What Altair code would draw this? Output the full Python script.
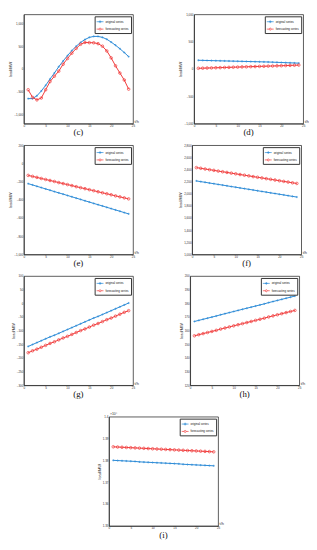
import altair as alt
import pandas as pd

hours = list(range(1, 25))

c_orig = [-652, -652, -590, -485, -361, -222, -90, 49, 174, 292, 403, 500,
          583, 646, 694, 715, 715, 694, 653, 590, 521, 444, 361, 271]
c_fore = [-458, -625, -680, -639, -458, -278, -160, -49, 104, 229, 347, 451,
          542, 583, 578, 575, 556, 500, 396, 243, 69, -90, -243, -444]

d_orig = [159, 157, 155, 153, 151, 149, 147, 145, 143, 141, 139, 137,
          135, 133, 131, 129, 127, 124, 121, 118, 115, 112, 109, 106]
d_fore = [12, 14, 17, 19, 22, 24, 27, 29, 32, 34, 37, 39,
          42, 44, 47, 49, 52, 54, 57, 59, 62, 65, 68, 71]

e_orig = [-223, -237, -252, -266, -281, -295, -310, -324, -338, -353, -367, -382,
          -396, -411, -425, -440, -454, -468, -483, -497, -512, -526, -541, -555]
e_fore = [-132, -143, -154, -166, -177, -188, -199, -211, -222, -233, -244, -256,
          -267, -278, -289, -300, -312, -323, -334, -345, -357, -368, -379, -390]

f_orig = [2211, 2199, 2188, 2176, 2165, 2153, 2142, 2130, 2118, 2107, 2095, 2084,
          2072, 2061, 2049, 2037, 2026, 2014, 2003, 1991, 1980, 1968, 1956, 1945]
f_fore = [2430, 2419, 2407, 2396, 2385, 2373, 2362, 2351, 2339, 2328, 2316, 2305,
          2294, 2282, 2271, 2260, 2248, 2237, 2226, 2214, 2203, 2192, 2180, 2169]

g_orig = [-158, -151, -144, -137, -130, -123, -117, -110, -103, -96, -89, -82,
          -75, -68, -61, -54, -48, -41, -34, -27, -20, -13, -6, 1]
g_fore = [-181, -174, -168, -161, -154, -147, -141, -134, -127, -121, -114, -107,
          -100, -94, -87, -80, -74, -67, -60, -54, -47, -40, -33, -27]

h_orig = [166.7, 167.5, 168.3, 169.1, 169.9, 170.7, 171.6, 172.4, 173.2, 174.0, 174.8, 175.6,
          176.4, 177.2, 178.0, 178.8, 179.6, 180.5, 181.3, 182.1, 182.9, 183.7, 184.5, 185.3]
h_fore = [156.2, 157.0, 157.8, 158.6, 159.4, 160.2, 161.1, 161.9, 162.7, 163.5, 164.3, 165.1,
          165.9, 166.7, 167.5, 168.3, 169.1, 170.0, 170.8, 171.6, 172.4, 173.2, 174.0, 174.8]

# panel (i) values in units of 10^4
i_orig = [1.3800, 1.3799, 1.3798, 1.3797, 1.3796, 1.3795, 1.3793, 1.3792, 1.3791, 1.3790, 1.3789, 1.3788,
          1.3787, 1.3786, 1.3785, 1.3784, 1.3782, 1.3781, 1.3780, 1.3779, 1.3778, 1.3777, 1.3776, 1.3775]
i_fore = [1.3862, 1.3861, 1.3860, 1.3859, 1.3858, 1.3857, 1.3856, 1.3855, 1.3854, 1.3853, 1.3852, 1.3851,
          1.3850, 1.3849, 1.3848, 1.3847, 1.3846, 1.3845, 1.3844, 1.3843, 1.3842, 1.3841, 1.3840, 1.3839]

series_names = ["original series", "forecasting series"]
x_ticks = [0, 5, 10, 15, 20, 25]

BLUE = "#2a8ad6"
RED = "#f03a3a"
PLUS = "M-1,0H1M0,-1V1"
LEG_PLUS = "M-1,0H1M0,-0.4V0.4M-0.4,0H0.4"
LEG_CIRC = "M-1,0H-0.3M0.3,0H1M-0.3,0A0.3,0.3,0,1,0,0.3,0A0.3,0.3,0,1,0,-0.3,0"
W, H = 111, 111


def panel(label, orig, fore, ydom, yticks, yfmt=None, exp_text=None):
    df = pd.DataFrame({
        "t": hours + hours,
        "load": orig + fore,
        "series": [series_names[0]] * 24 + [series_names[1]] * 24,
    })
    base = alt.Chart(df)
    x = alt.X("t:Q", scale=alt.Scale(domain=[0, 25], nice=False),
              axis=alt.Axis(values=x_ticks, title="t/h", titleX=W + 1, titleY=-2,
                            titleAlign="left", titleBaseline="middle", titleAngle=0,
                            labelFlush=False))
    yaxis = dict(values=yticks, title="load/MW")
    if yfmt:
        yaxis["format"] = yfmt
    y = alt.Y("load:Q", scale=alt.Scale(domain=ydom, nice=False, zero=False),
              axis=alt.Axis(**yaxis))
    o = base.transform_filter(alt.datum.series == series_names[0])
    f = base.transform_filter(alt.datum.series == series_names[1])
    layers = [
        o.mark_line(color=BLUE, strokeWidth=1).encode(x=x, y=y),
        o.mark_point(shape=PLUS, filled=False, color=BLUE, size=5, strokeWidth=0.6, opacity=1).encode(x=x, y=y),
        f.mark_line(color=RED, strokeWidth=1).encode(x=x, y=y),
        f.mark_point(shape="circle", filled=False, color=RED, size=7, strokeWidth=0.7, opacity=1).encode(x=x, y=y),
        base.transform_filter("false").mark_point(filled=False, strokeWidth=0.7, opacity=1).encode(
            x=x, y=y,
            color=alt.Color("series:N", scale=alt.Scale(domain=series_names, range=[BLUE, RED]),
                            legend=alt.Legend(title=None)),
            shape=alt.Shape("series:N", scale=alt.Scale(domain=series_names, range=[LEG_PLUS, LEG_CIRC]),
                            legend=alt.Legend(title=None)),
        ),
    ]
    if exp_text:
        tdf = pd.DataFrame({"txt": [exp_text]})
        layers.append(alt.Chart(tdf).mark_text(align="left", baseline="bottom", fontSize=3.5,
                                               font="Liberation Sans", color="#333").encode(
            text="txt:N", x=alt.value(1), y=alt.value(-1)))
    return alt.layer(*layers).properties(
        width=W, height=H,
        title=alt.TitleParams(label, orient="bottom", font="Liberation Serif", fontSize=9,
                              fontWeight="normal", offset=1, color="#111"),
    )


def indep(ch):
    return ch.resolve_scale(color="independent", shape="independent").resolve_legend(
        color="independent", shape="independent")


pc = panel("(c)", c_orig, c_fore, [-1200, 1200], [-1000, -500, 0, 500, 1000])
pd_ = panel("(d)", d_orig, d_fore, [-1000, 1000], [-1000, -500, 0, 500, 1000])
pe = panel("(e)", e_orig, e_fore, [-1000, 200], [-1000, -800, -600, -400, -200, 0, 200])
pf = panel("(f)", f_orig, f_fore, [1000, 2800], [1000, 1200, 1400, 1600, 1800, 2000, 2200, 2400, 2600, 2800])
pg = panel("(g)", g_orig, g_fore, [-300, 100], [-300, -250, -200, -150, -100, -50, 0, 50, 100])
ph = panel("(h)", h_orig, h_fore, [120, 200], [120, 130, 140, 150, 160, 170, 180, 190, 200])
pi = panel("(i)", i_orig, i_fore, [1.35, 1.40], [1.35, 1.36, 1.37, 1.38, 1.39, 1.40],
           yfmt=".3~f", exp_text="×10⁴")

S = 40
rows = indep(alt.vconcat(
    indep(alt.hconcat(pc, pd_, spacing=S)),
    indep(alt.hconcat(pe, pf, spacing=S)),
    indep(alt.hconcat(pg, ph, spacing=S)),
    spacing=5,
))
chart = indep(alt.vconcat(rows, pi, spacing=11, center=True)).properties(
    padding=0, background="white"
).configure_view(
    stroke="#333", strokeWidth=0.8
).configure_axis(
    grid=False, ticks=False, domainColor="#333", domainWidth=0.8,
    labelFont="Liberation Sans", titleFont="Liberation Sans",
    labelFontSize=3, titleFontSize=4, labelPadding=1, titlePadding=1,
    labelColor="#333", titleColor="#333", titleFontWeight="normal",
    labelOverlap=False,
).configure_legend(
    orient="top-right", offset=2, padding=1.5, strokeColor="#333", fillColor="white",
    labelFontSize=3, labelFont="Liberation Sans", labelColor="#111", symbolSize=49,
    symbolStrokeWidth=0.7, rowPadding=0.5, labelOffset=1.5, cornerRadius=0,
    labelLimit=200,
)

chart.save("out.html", embed_options={"renderer": "svg", "actions": False})
